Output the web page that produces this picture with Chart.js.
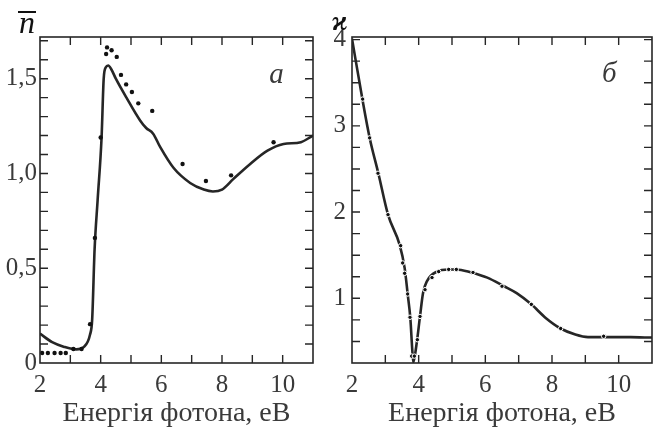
<!DOCTYPE html>
<html>
<head>
<meta charset="utf-8">
<script src="https://cdn.jsdelivr.net/npm/chart.js@4.4.0/dist/chart.umd.min.js"></script>
<style>
  body { margin: 0; background: #fff; overflow: hidden; width: 656px; height: 428px; position: relative; }
  #left { position: absolute; left: 0; top: 0; width: 330px; height: 428px; }
  #right { position: absolute; left: 320px; top: 0; width: 339px; height: 428px; }
</style>
</head>
<body>
<div id="left"><canvas id="chartN"></canvas></div>
<div id="right"><canvas id="chartK"></canvas></div>
<script>
// panel a: refractive index n
let energyN = [2.0, 2.4, 2.8, 3.2, 3.45, 3.65, 3.72, 3.8, 3.9, 4.03, 4.1, 4.17, 4.25, 4.35, 4.5, 4.85, 5.3, 5.5, 5.73, 5.96, 6.4, 6.95, 7.4, 7.7, 8.0, 8.37, 8.93, 9.5, 10.03, 10.6, 11.0];
let nLine   = [0.155, 0.11, 0.085, 0.072, 0.085, 0.15, 0.23, 0.6, 0.86, 1.19, 1.5, 1.56, 1.57, 1.55, 1.5, 1.4, 1.28, 1.24, 1.21, 1.14, 1.03, 0.95, 0.915, 0.905, 0.915, 0.97, 1.05, 1.12, 1.155, 1.165, 1.2];
let energyNexp = [2.07, 2.26, 2.48, 2.68, 2.85, 3.1, 3.37, 3.65, 3.81, 4.0, 4.18, 4.21, 4.36, 4.53, 4.67, 4.84, 5.03, 5.24, 5.7, 6.7, 7.47, 8.3, 9.7];
let nExp       = [0.053, 0.053, 0.053, 0.053, 0.053, 0.074, 0.074, 0.205, 0.66, 1.19, 1.63, 1.665, 1.65, 1.615, 1.52, 1.47, 1.43, 1.37, 1.33, 1.05, 0.96, 0.99, 1.165];

// panel б: extinction coefficient kappa
let energyK = [2.0, 2.32, 2.53, 2.79, 3.08, 3.43, 3.58, 3.67, 3.75, 3.81, 3.84, 3.93, 4.04, 4.13, 4.25, 4.55, 4.9, 5.13, 5.57, 6.06, 6.56, 6.94, 7.38, 7.82, 8.26, 8.7, 9.08, 9.57, 10.36, 10.9, 11.0];
let kLine   = [4.01, 3.29, 2.86, 2.45, 1.97, 1.62, 1.35, 1.05, 0.77, 0.39, 0.26, 0.45, 0.79, 1.06, 1.2, 1.31, 1.335, 1.335, 1.3, 1.24, 1.14, 1.06, 0.93, 0.77, 0.65, 0.58, 0.55, 0.55, 0.55, 0.545, 0.545];
let energyKexp = [2.32, 2.53, 2.78, 3.08, 3.46, 3.52, 3.58, 3.67, 3.74, 3.79, 3.87, 3.96, 4.04, 4.19, 4.4, 4.6, 4.9, 5.13, 5.63, 6.5, 7.38, 8.26, 9.55];
let kExp       = [3.31, 2.86, 2.45, 1.97, 1.61, 1.41, 1.29, 1.05, 0.78, 0.33, 0.33, 0.52, 0.79, 1.1, 1.24, 1.31, 1.335, 1.335, 1.3, 1.14, 0.93, 0.65, 0.56];

let xTickLabels = [2, 4, 6, 8, 10];
let axisTitle = 'Енергія фотона, еВ';

function pts(xs, ys) {
    return xs.map((x, i) => ({ x: x, y: ys[i] }));
}

let ink = '#262626';
let textCol = '#3a3a3a';
let serif = "'Liberation Serif', 'Times New Roman', 'DejaVu Serif', serif";

// frame with inward ticks + panel letters
const framePlugin = {
    id: 'frame',
    afterDatasetsDraw(chart, args, opts) {
        const c = chart.ctx;
        const a = chart.chartArea;
        const xs = chart.scales.x, ys = chart.scales.y;
        c.save();
        c.strokeStyle = ink;
        c.lineWidth = 1.6;
        c.strokeRect(a.left, a.top, a.right - a.left, a.bottom - a.top);
        c.lineWidth = 1.4;
        c.beginPath();
        for (let v = Math.ceil(xs.min); v < xs.max; v++) {
            if (v <= xs.min) continue;
            let px = xs.getPixelForValue(v);
            c.moveTo(px, a.top); c.lineTo(px, a.top + 8);
            c.moveTo(px, a.bottom); c.lineTo(px, a.bottom - 8);
        }
        for (let k = 0; ; k++) {
            let v = opts.yStart + k * opts.yStep;
            if (v > ys.max - 1e-6) break;
            if (v <= ys.min + 1e-6) continue;
            let py = ys.getPixelForValue(v);
            c.moveTo(a.left, py); c.lineTo(a.left + 8, py);
            c.moveTo(a.right, py); c.lineTo(a.right - 8, py);
        }
        c.stroke();

        // panel letter
        c.fillStyle = textCol;
        c.font = 'italic 29px ' + serif;
        c.textAlign = 'center';
        c.textBaseline = 'middle';
        c.fillText(opts.letter, xs.getPixelForValue(opts.letterAt[0]), ys.getPixelForValue(opts.letterAt[1]));

        // quantity symbol above the y axis
        c.fillStyle = '#111';
        if (opts.symbol === 'n') {
            c.font = 'italic 32px ' + serif;
            c.textBaseline = 'alphabetic';
            c.fillText('n', 27, 33);
            c.lineWidth = 2;
            c.strokeStyle = '#111';
            c.beginPath();
            c.moveTo(18, 12); c.lineTo(36, 12);
            c.stroke();
        } else {
            c.font = 'bold italic 28px ' + serif;
            c.textBaseline = 'alphabetic';
            c.fillText(opts.symbol, 20, 30);
        }
        c.restore();
    }
};

function makeChart(id, lineData, expData, cfg) {
    return new Chart(document.getElementById(id), {
        type: 'scatter',
        data: {
            datasets: [
                {
                    data: lineData,
                    showLine: true,
                    borderColor: ink,
                    borderWidth: 2.6,
                    pointRadius: 0,
                    cubicInterpolationMode: 'monotone',
                    order: 2
                },
                {
                    data: expData,
                    showLine: false,
                    pointRadius: 2.2,
                    backgroundColor: '#111',
                    borderColor: cfg.dotRing,
                    borderWidth: cfg.dotRingWidth,
                    order: 1
                }
            ]
        },
        options: {
            responsive: true,
            maintainAspectRatio: false,
            animation: false,
            layout: { padding: { top: 37, right: cfg.padRight, left: 0, bottom: 0 } },
            scales: {
                x: {
                    type: 'linear',
                    min: 2,
                    max: 11,
                    grid: { display: false, drawTicks: false },
                    border: { display: false },
                    ticks: {
                        stepSize: 1,
                        autoSkip: false,
                        maxRotation: 0,
                        padding: 7,
                        color: textCol,
                        font: { family: serif, size: 25 },
                        callback: v => xTickLabels.includes(v) ? String(v) : ''
                    },
                    title: {
                        display: true,
                        text: axisTitle,
                        color: textCol,
                        font: { family: serif, size: 28 },
                        padding: { top: 0, bottom: -2 }
                    },
                    afterFit: s => { s.height = 65; }
                },
                y: {
                    min: cfg.yMin,
                    max: cfg.yMax,
                    grid: { display: false, drawTicks: false },
                    border: { display: false },
                    ticks: {
                        stepSize: cfg.yStep,
                        autoSkip: false,
                        includeBounds: false,
                        padding: cfg.yPad,
                        color: textCol,
                        font: { family: serif, size: 25 },
                        callback: cfg.yLabel
                    },
                    afterFit: s => { s.width = cfg.yWidth; }
                }
            },
            plugins: {
                legend: { display: false },
                tooltip: { enabled: false },
                frame: cfg.frame
            }
        },
        plugins: [framePlugin]
    });
}

makeChart('chartN', pts(energyN, nLine), pts(energyNexp, nExp), {
    padRight: 17,
    yMin: 0, yMax: 1.72, yStep: 0.1, yWidth: 40, yPad: 3,
    dotRing: '#111', dotRingWidth: 0,
    yLabel: v => {
        let h = v * 2;
        if (Math.abs(h - Math.round(h)) > 1e-6) return '';
        return Math.round(h) === 0 ? '0' : (Math.round(h) / 2).toFixed(1).replace('.', ',');
    },
    frame: { yStart: 0, yStep: 0.1, letter: 'а', letterAt: [9.8, 1.52], symbol: 'n' }
});

makeChart('chartK', pts(energyK, kLine), pts(energyKexp, kExp), {
    padRight: 0,
    yMin: 0.25, yMax: 4.03, yStep: 0.25, yWidth: 32, yPad: 6,
    dotRing: '#fff', dotRingWidth: 1,
    yLabel: v => Math.abs(v - Math.round(v)) < 1e-6 ? String(Math.round(v)) : '',
    frame: { yStart: 0.25, yStep: 0.25, letter: 'б', letterAt: [9.72, 3.6], symbol: 'ϰ' }
});
</script>
</body>
</html>
